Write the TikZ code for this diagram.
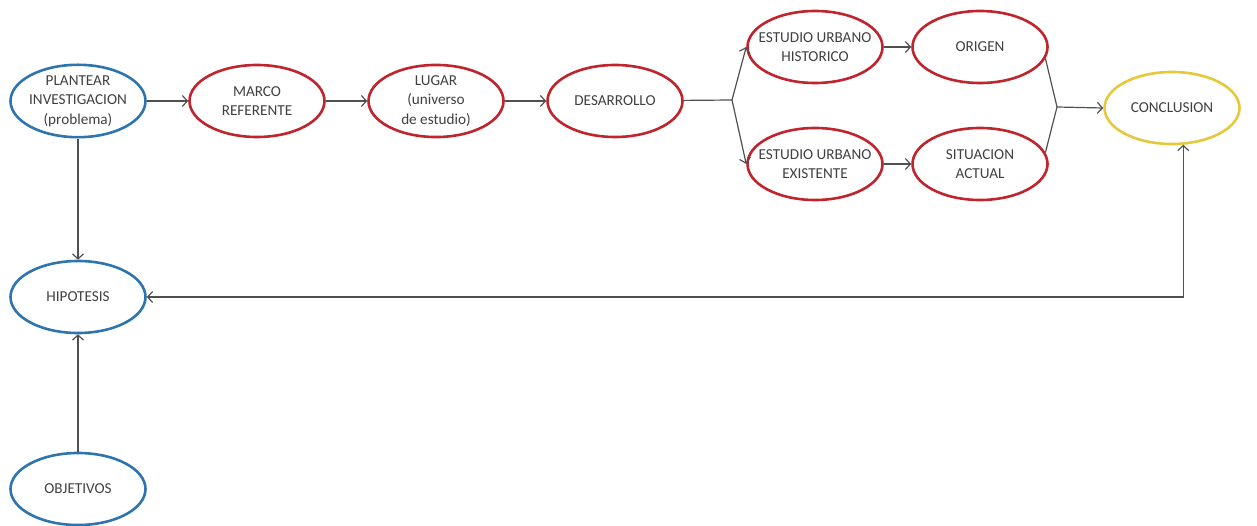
\documentclass[tikz,border=0pt]{standalone}
\usepackage{fontspec}
\setmainfont{Carlito}
\usetikzlibrary{shapes.geometric, positioning, arrows.meta}
\definecolor{azul}{RGB}{46,117,176}
\definecolor{rojo}{RGB}{192,36,44}
\definecolor{amarillo}{RGB}{230,200,60}
\definecolor{linea}{RGB}{80,80,80}
\tikzset{->,  % all connectors are directed
>={Straight Barb[length=5pt,width=11pt]}, % open arrow heads
node distance=179pt, % distance between the centres of the main row
paso/.style={ellipse, draw, line width=2.6pt, minimum width=135pt, minimum height=72pt,
  inner ysep=0pt, inner xsep=-16pt, align=center, text=black!75, font=\fontsize{15.2}{19.5}\selectfont},
azulpaso/.style={paso, draw=azul},
rojopaso/.style={paso, draw=rojo},
amarillopaso/.style={paso, draw=amarillo},
}

\begin{document}
\begin{tikzpicture}[line width=1.2pt, draw=linea]
  \useasboundingbox (0pt,0pt) rectangle (1257pt,-526pt);
  \node[azulpaso] (plantear) at (78pt,-101pt) {PLANTEAR\\INVESTIGACION\\(problema)};
  \node[rojopaso, right of=plantear] (marco) {MARCO\\REFERENTE};
  \node[rojopaso, right of=marco] (lugar) {LUGAR\\(universo\\de estudio)};
  \node[rojopaso, right of=lugar] (desarrollo) {DESARROLLO};
  \node[rojopaso, right of=desarrollo, xshift=21pt, yshift=54pt] (historico) {ESTUDIO URBANO\\HISTORICO};
  \node[rojopaso, right of=historico, xshift=-14pt] (origen) {ORIGEN};
  \node[rojopaso, below of=historico, node distance=117pt] (existente) {ESTUDIO URBANO\\EXISTENTE};
  \node[rojopaso, right of=existente, xshift=-14pt] (situacion) {SITUACION\\ACTUAL};
  \node[amarillopaso, right of=origen, xshift=13pt, yshift=-61pt] (conclusion) {CONCLUSION};
  \node[azulpaso, below of=plantear, node distance=196pt] (hipotesis) {HIPOTESIS};
  \node[azulpaso, below of=hipotesis, node distance=192pt] (objetivos) {OBJETIVOS};

  \coordinate (split) at (732pt,-100pt);
  \coordinate (join) at (1057pt,-107pt);

  \draw (plantear) -- (marco);
  \draw (marco) -- (lugar);
  \draw (lugar) -- (desarrollo);
  \draw[-] (desarrollo) -- (split);
  \draw (split) -- (historico.west);
  \draw (split) -- (existente.west);
  \draw (historico) -- (origen);
  \draw (existente) -- (situacion);
  \draw[-] (origen.-10) -- (join) -- (situacion.10);
  \draw (join) -- (conclusion.west);
  \draw (plantear) -- (hipotesis);
  \draw (objetivos) -- (hipotesis);
  \draw[<->] (hipotesis.east) -| (conclusion.-73);

\end{tikzpicture}
\end{document}
